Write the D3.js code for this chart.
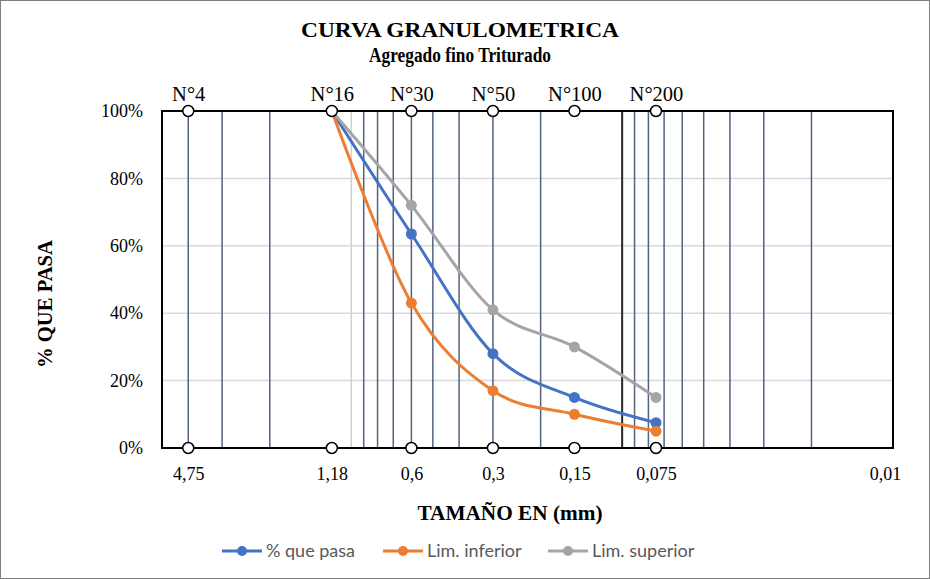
<!DOCTYPE html>
<html>
<head>
<meta charset="utf-8">
<script src="https://cdn.jsdelivr.net/npm/d3@7"></script>
<style>
  html, body { margin: 0; padding: 0; background: #fff; }
  svg { display: block; }
</style>
</head>
<body>
<svg id="chart" width="930" height="579"></svg>
<script>
// ---- Data ----
const sieveNames = ["N°4", "N°16", "N°30", "N°50", "N°100", "N°200"];
const sieveSizes = [4.0, 1.18, 0.6, 0.3, 0.15, 0.075];           // plotted position (mm)
const sizeLabels = ["4,75", "1,18", "0,6", "0,3", "0,15", "0,075"];
const gradSizes = [1.18, 0.6, 0.3, 0.15, 0.075];
const pctPasa = [100, 63.5, 28, 15, 7.5];
const limInferior = [100, 43, 17, 10, 5];
const limSuperior = [100, 72, 41, 30, 15];
const yTicks = [0, 20, 40, 60, 80, 100];
const minorGrid = [4, 3, 2, 0.9, 0.8, 0.7, 0.6, 0.5, 0.4, 0.3, 0.2,
                   0.09, 0.08, 0.07, 0.06, 0.05, 0.04, 0.03, 0.02];
const majorLight = [1];
const majorDark = [0.1];
const seriesNames = ["% que pasa", "Lim. inferior", "Lim. superior"];
const seriesColors = ["#4472C4", "#ED7D31", "#A5A5A5"];
const seriesValues = [pctPasa, limInferior, limSuperior];

// ---- Layout ----
const svg = d3.select("#chart");
const serif = "'Liberation Serif', 'Times New Roman', serif";
const L = 162, R = 893, T = 111, B = 448;

const x = d3.scaleLog().domain([5, 0.01]).range([L, R]);
const y = d3.scaleLinear().domain([0, 100]).range([B, T]);

// outer border
svg.append("rect").attr("x", 0.5).attr("y", 0.5).attr("width", 929).attr("height", 578)
  .attr("fill", "#fff").attr("stroke", "#7f7f7f").attr("stroke-width", 1);

// titles
svg.append("text").attr("x", 460).attr("y", 37).attr("text-anchor", "middle")
  .attr("font-family", serif).attr("font-weight", "bold").attr("font-size", 22)
  .attr("textLength", 318).attr("lengthAdjust", "spacingAndGlyphs")
  .text("CURVA GRANULOMETRICA");
svg.append("text").attr("x", 460).attr("y", 62).attr("text-anchor", "middle")
  .attr("font-family", serif).attr("font-weight", "bold").attr("font-size", 21.5)
  .attr("textLength", 182).attr("lengthAdjust", "spacingAndGlyphs")
  .text("Agregado fino Triturado");

// horizontal gridlines
svg.append("g").selectAll("line").data(yTicks.slice(1, -1)).join("line")
  .attr("x1", L).attr("x2", R).attr("y1", d => y(d)).attr("y2", d => y(d))
  .attr("stroke", "#D9D9D9").attr("stroke-width", 1.5);

// vertical gridlines
svg.append("g").selectAll("line").data(majorLight).join("line")
  .attr("x1", d => x(d)).attr("x2", d => x(d)).attr("y1", T).attr("y2", B)
  .attr("stroke", "#D0D0D0").attr("stroke-width", 1.5);
svg.append("g").selectAll("line").data(minorGrid).join("line")
  .attr("x1", d => x(d)).attr("x2", d => x(d)).attr("y1", T).attr("y2", B)
  .attr("stroke", "#53627F").attr("stroke-width", 1.5);
svg.append("g").selectAll("line").data(majorDark).join("line")
  .attr("x1", d => x(d)).attr("x2", d => x(d)).attr("y1", T).attr("y2", B)
  .attr("stroke", "#262626").attr("stroke-width", 2);

// plot frame
svg.append("rect").attr("x", L).attr("y", T).attr("width", R - L).attr("height", B - T)
  .attr("fill", "none").attr("stroke", "#000").attr("stroke-width", 2);

// y axis labels
const yAxis = d3.axisLeft(y).tickValues(yTicks).tickFormat(d => d + "%").tickSize(0).tickPadding(19);
const gy = svg.append("g").attr("transform", `translate(${L},0)`).call(yAxis);
gy.select(".domain").remove();
gy.selectAll("text").attr("font-family", serif).attr("font-size", 18).attr("fill", "#000");

// x labels (data labels under sieves) via axis
const xAxis = d3.axisBottom(x).tickValues(sieveSizes.concat([0.01]))
  .tickFormat((d, i) => i < sizeLabels.length ? sizeLabels[i] : "0,01").tickSize(0).tickPadding(19);
const gx = svg.append("g").attr("transform", `translate(0,${B})`).call(xAxis);
gx.select(".domain").remove();
gx.selectAll("text").attr("font-family", serif).attr("font-size", 18).attr("fill", "#000");
gx.selectAll(".tick").filter(d => d === 0.01).select("text").attr("dx", -8);

// top sieve labels
const xTop = d3.axisTop(x).tickValues(sieveSizes).tickFormat((d, i) => sieveNames[i]).tickSize(0).tickPadding(10);
const gt = svg.append("g").attr("transform", `translate(0,${T})`).call(xTop);
gt.select(".domain").remove();
gt.selectAll("text").attr("font-family", serif).attr("font-size", 20.5).attr("fill", "#000");

// axis titles
svg.append("text").attr("x", 510).attr("y", 520).attr("text-anchor", "middle")
  .attr("font-family", serif).attr("font-weight", "bold").attr("font-size", 21)
  .attr("textLength", 185).attr("lengthAdjust", "spacingAndGlyphs")
  .text("TAMAÑO EN (mm)");
svg.append("text").attr("transform", "translate(52,304) rotate(-90)").attr("text-anchor", "middle")
  .attr("font-family", serif).attr("font-weight", "bold").attr("font-size", 21)
  .attr("textLength", 128).attr("lengthAdjust", "spacingAndGlyphs")
  .text("% QUE PASA");

// series
const line = d3.line().x(d => x(d[0])).y(d => y(d[1])).curve(d3.curveCatmullRom.alpha(0));
seriesValues.forEach((vals, si) => {
  const pts = gradSizes.map((s, i) => [s, vals[i]]);
  const g = svg.append("g");
  g.append("path").attr("d", line(pts)).attr("fill", "none")
    .attr("stroke", seriesColors[si]).attr("stroke-width", 3).attr("stroke-linejoin", "round");
  g.selectAll("circle").data(pts.slice(1)).join("circle")
    .attr("cx", d => x(d[0])).attr("cy", d => y(d[1])).attr("r", 5.5)
    .attr("fill", seriesColors[si]);
});

// sieve markers (top and bottom)
[0, 100].forEach(v => {
  svg.append("g").selectAll("circle").data(sieveSizes).join("circle")
    .attr("cx", d => x(d)).attr("cy", y(v)).attr("r", 5.5)
    .attr("fill", "#fff").attr("stroke", "#000").attr("stroke-width", 1.5);
});

// legend
const legX = [222, 383, 548];
seriesNames.forEach((n, i) => {
  const g = svg.append("g").attr("transform", `translate(${legX[i]},551)`);
  g.append("line").attr("x1", 0).attr("x2", 40).attr("y1", 0).attr("y2", 0)
    .attr("stroke", seriesColors[i]).attr("stroke-width", 3);
  g.append("circle").attr("cx", 20).attr("cy", 0).attr("r", 5).attr("fill", seriesColors[i]);
  g.append("text").attr("x", 44).attr("y", 6).attr("font-family", "Lato, 'Open Sans', sans-serif")
    .attr("font-size", 18).attr("fill", "#595959").text(n);
});
</script>
</body>
</html>
